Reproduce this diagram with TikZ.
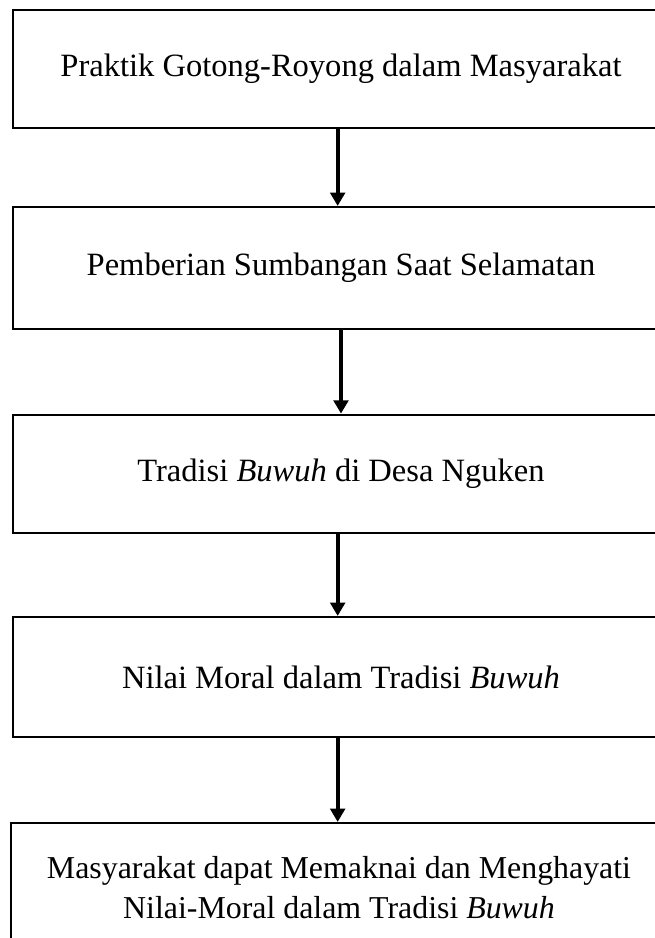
\documentclass[tikz,border=0pt]{standalone}
\usepackage{fontspec}
\setmainfont{Liberation Serif}
\usetikzlibrary{arrows.meta}
\tikzset{
	stage/.style={draw, line width=1.6pt, minimum width=492pt, minimum height=89pt, align=center, inner sep=0pt, font=\fontsize{24.4}{30}\selectfont},
	flow/.style={line width=2.8pt, -{Triangle[width=11pt,length=10pt]}}
}
\begin{document}
\begin{tikzpicture}[x=0.75pt, y=-0.75pt]
\useasboundingbox (0,0) rectangle (654,938);
\node[stage] (praktik) at (341,69) {Praktik Gotong-Royong dalam Masyarakat};
\node[stage, minimum height=91.5pt] (sumbangan) at (341,268) {Pemberian Sumbangan Saat Selamatan};
\node[stage] (tradisi) at (341,474) {Tradisi \textit{Buwuh} di Desa Nguken};
\node[stage, minimum height=90pt] (nilai) at (341,677) {Nilai Moral dalam Tradisi \textit{Buwuh}};
\node[stage, minimum height=97.5pt, font=\fontsize{23.9}{30}\selectfont] (hayati) at (339,888) {Masyarakat dapat Memaknai dan Menghayati\\Nilai-Moral dalam Tradisi \textit{Buwuh}};
% arrows between stages
\draw[flow] ([xshift=-2.5pt]praktik.south) -- ([xshift=-2.5pt]sumbangan.north);
\draw[flow] (sumbangan) -- (tradisi);
\draw[flow] ([xshift=-2.5pt]tradisi.south) -- ([xshift=-2.5pt]nilai.north);
\draw[flow] ([xshift=-2.5pt]nilai.south) -- ([xshift=-1pt]hayati.north);
\end{tikzpicture}
\end{document}
